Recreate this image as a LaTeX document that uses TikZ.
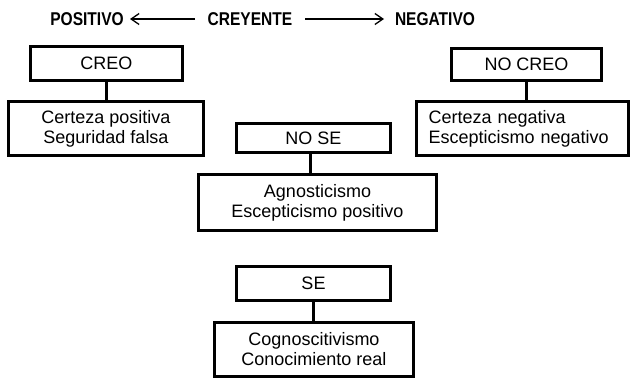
\documentclass[tikz,border=0pt]{standalone}
\usepackage{fontspec}
\setmainfont{Liberation Sans}
\newfontfamily\titlefont[FakeStretch=0.84]{Liberation Sans}
\usetikzlibrary{arrows.meta}
\begin{document}
\begin{tikzpicture}[x=1pt,y=-1pt,
  box/.style={draw, line width=3pt, inner sep=0pt, align=center,
    font=\fontsize{18}{20}\selectfont},
  ttl/.style={font=\titlefont\fontsize{18.5}{20}\selectfont\bfseries, inner sep=0pt},
  conn/.style={line width=3pt},
  harrow/.style={line width=1.3pt, -{Straight Barb[length=8pt,width=11pt,line width=1.3pt]}}]
\useasboundingbox (0,0) rectangle (631,383);
% title row
\node[ttl] (pos) at (87,19) {POSITIVO};
\node[ttl] (cre) at (250,19) {CREYENTE};
\node[ttl] (neg) at (435,19) {NEGATIVO};
\coordinate (la) at (195,19);
\coordinate (lt) at (130,19);
\coordinate (ra) at (305,19);
\coordinate (rt) at (384,19);
\draw[harrow] (la) -- (lt);
\draw[harrow] (ra) -- (rt);
% CREO
\node[box, minimum width=152pt, minimum height=34pt] (creo) at (106.5,63.5) {CREO};
\node[box, minimum width=195pt, minimum height=54pt] (creoL) at (106,128.5) {Certeza positiva\\Seguridad falsa};
\draw[conn] (creo.south) -- (creo.south |- creoL.north);
% NO CREO
\node[box, minimum width=150pt, minimum height=32pt] (nocreo) at (526.5,64.5) {NO CREO};
\node[box, minimum height=54pt, inner xsep=12pt, text width=188pt, align=left] (nocreoL) at (522.5,128.5) {Certeza negativa\\Escepticismo negativo};
\draw[conn] (nocreo.south) -- (nocreo.south |- nocreoL.north);
% NO SE
\node[box, minimum width=154pt, minimum height=29pt] (nose) at (313.5,138) {NO SE};
\node[box, minimum width=238pt, minimum height=56pt] (noseL) at (317.5,202.5) {Agnosticismo\\Escepticismo positivo};
\draw[conn] ([xshift=-3pt]nose.south) -- ([xshift=-3pt]nose.south |- noseL.north);
% SE
\node[box, minimum width=154pt, minimum height=34pt] (se) at (313.5,283.5) {SE};
\node[box, minimum width=199pt, minimum height=54pt] (seL) at (314,349.5) {Cognoscitivismo\\Conocimiento real};
\draw[conn] (se.south) -- (se.south |- seL.north);
\end{tikzpicture}
\end{document}
